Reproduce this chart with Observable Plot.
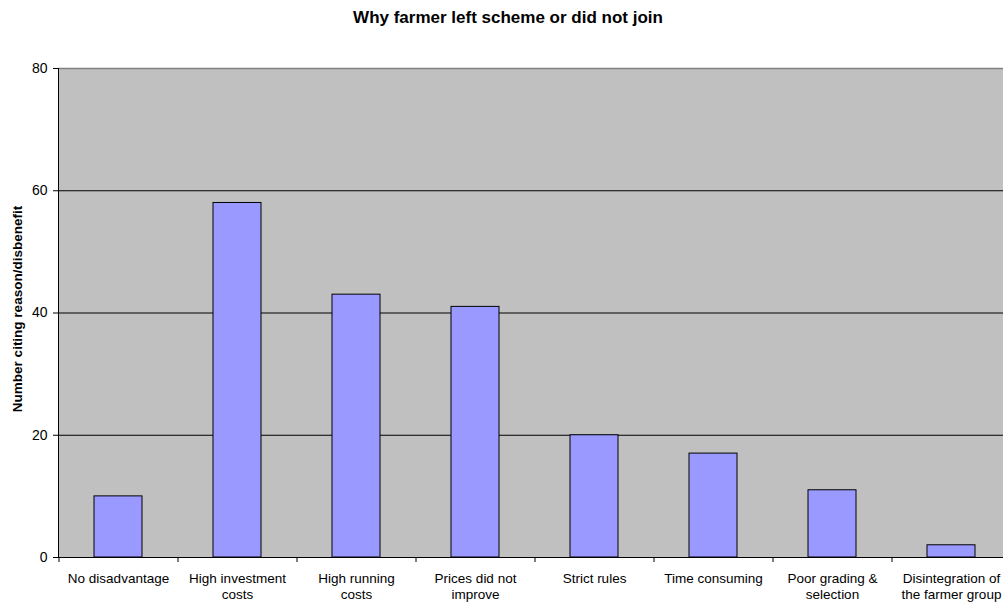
<!DOCTYPE html>
<html>
<head>
<meta charset="utf-8">
<script src="https://cdn.jsdelivr.net/npm/d3@7"></script>
<script src="https://cdn.jsdelivr.net/npm/@observablehq/plot@0.6"></script>
<style>
  html, body { margin: 0; padding: 0; background: #fff; overflow: hidden; }
  #chart svg { overflow: hidden; }
</style>
</head>
<body>
<div id="chart"></div>
<script>
const categories = ["No disadvantage", "High investment costs", "High running costs", "Prices did not improve", "Strict rules", "Time consuming", "Poor grading & selection", "Disintegration of the farmer group"];
const values = [10, 58, 43, 41, 20, 17, 11, 2];
const tickLabels = ["No disadvantage", "High investment\ncosts", "High running\ncosts", "Prices did not\nimprove", "Strict rules", "Time consuming", "Poor grading &\nselection", "Disintegration of\nthe farmer group"];
const yTicks = [0, 20, 40, 60, 80];
const gridValues = [20, 40, 60];
const title = "Why farmer left scheme or did not join";
const yLabel = "Number citing reason/disbenefit";

const data = categories.map((c, i) => ({category: c, value: values[i]}));
const labelOf = new Map(categories.map((c, i) => [c, tickLabels[i]]));

const chart = Plot.plot({
  width: 1003,
  height: 604,
  marginLeft: 58,
  marginRight: 0,
  marginTop: 68,
  marginBottom: 47,
  style: {fontFamily: "'Liberation Sans', Arial, sans-serif", fontSize: "14px", background: "#fff", color: "#000"},
  x: {domain: categories, range: [58, 1010], paddingInner: 0.6, paddingOuter: 0.3, align: 0.5},
  y: {domain: [0, 80], range: [557, 68]},
  marks: [
    Plot.frame({fill: "#c0c0c0", stroke: null}),
    Plot.ruleY(gridValues, {stroke: "#000", strokeWidth: 1}),
    Plot.ruleY([80], {stroke: "#808080", strokeWidth: 1.5}),
    Plot.barY(data, {x: "category", y: "value", fill: "#9999ff", stroke: "#000", strokeWidth: 1}),
    Plot.ruleY([0], {stroke: "#000", strokeWidth: 1}),
    Plot.frame({anchor: "left", stroke: "#000", strokeWidth: 1}),
    Plot.ruleX(categories, {x: d => d, dx: -59.5, y1: 0, y2: 0, insetBottom: -5, stroke: "#000"}),
    Plot.axisX({tickSize: 0, tickPadding: 14, fontSize: 13.5, lineHeight: 1.2, tickFormat: d => labelOf.get(d), label: null}),
    Plot.axisY({ticks: yTicks, tickSize: 5, tickPadding: 6, fontSize: 14, label: null}),
    Plot.text([yLabel], {frameAnchor: "left", textAnchor: "middle", lineAnchor: "middle", dx: -41, dy: -4, rotate: -90, fontWeight: "bold", fontSize: 13.5, text: d => d}),
    Plot.text([title], {frameAnchor: "top", textAnchor: "middle", lineAnchor: "middle", dx: -23, dy: -51, fontWeight: "bold", fontSize: 17, text: d => d})
  ]
});
document.getElementById("chart").appendChild(chart);
</script>
</body>
</html>
